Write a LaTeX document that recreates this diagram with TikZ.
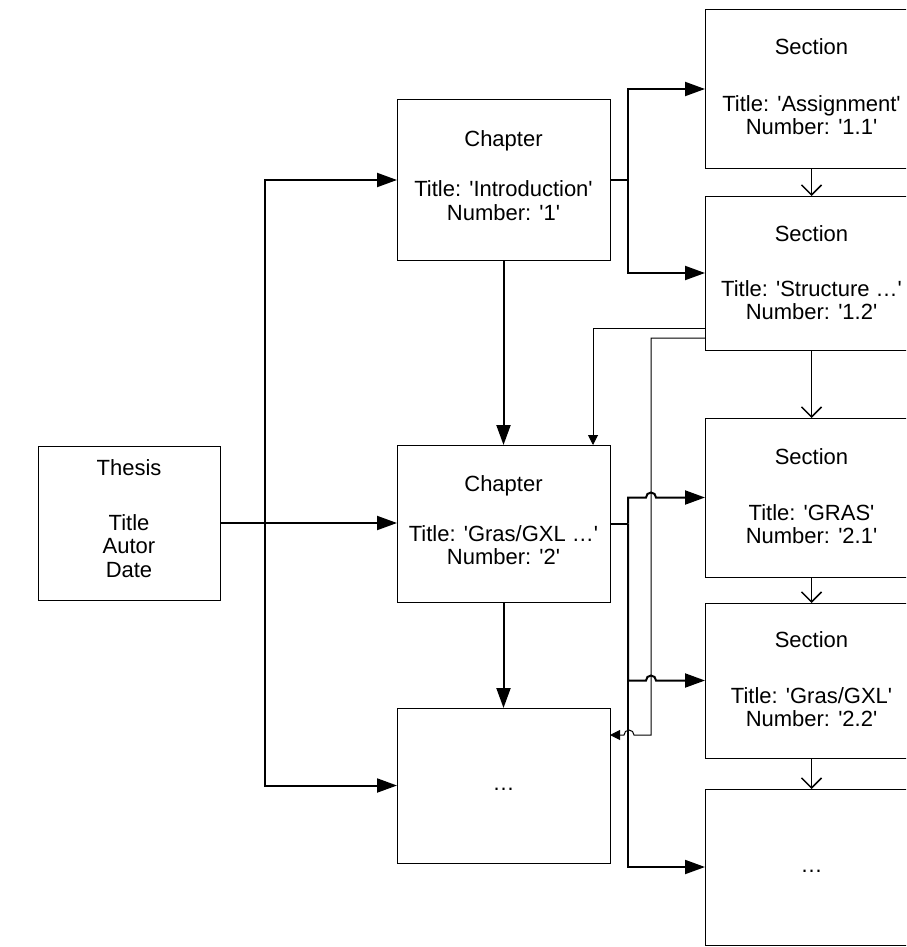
\documentclass[tikz,border=0pt]{standalone}
\usepackage{fontspec}
\setmainfont{Liberation Sans}
\usetikzlibrary{arrows.meta,calc}
% straight single quote
\newcommand\sq{\textquotesingle}
\begin{document}
\begin{tikzpicture}[x=1pt,y=-1pt,
  box/.style={draw=black, line width=1pt, anchor=north west, inner sep=0pt, outer sep=0pt},
  txt/.style={anchor=base, inner sep=0pt, font=\fontsize{22}{24}\selectfont},
  link/.style={line width=2pt, -{Triangle[length=20pt,width=14pt]}},
  bar/.style={line width=2pt},
  thinlink/.style={line width=1pt, -{Triangle[length=10pt,width=10pt]}},
  down/.style={line width=1.5pt, -{Straight Barb[length=10pt,width=20pt]}},
]
\useasboundingbox (0,0) rectangle (906,947);
\clip (0,0) rectangle (906,947);

% boxes
\node[box, minimum width=182pt, minimum height=154pt] (thesis) at (38,446) {};
\node[box, minimum width=213pt, minimum height=160pt] (ch1) at (397,100) {};
\node[box, minimum width=213pt, minimum height=157pt] (ch2) at (397,445) {};
\node[box, minimum width=213pt, minimum height=155pt] (ch3) at (397,708) {};
\node[box, minimum width=213pt, minimum height=158pt] (s1) at (705,10) {};
\node[box, minimum width=213pt, minimum height=154pt] (s2) at (705,196) {};
\node[box, minimum width=213pt, minimum height=159pt] (s3) at (705,418) {};
\node[box, minimum width=213pt, minimum height=155pt] (s4) at (705,603) {};
\node[box, minimum width=213pt, minimum height=156pt] (s5) at (705,789) {};

% labels
\node[txt] (thesis-a) at ($(thesis.north)+(0,29)$) {Thesis};
\node[txt] (thesis-b) at ($(thesis.north)+(0,84)$) {Title};
\node[txt] (thesis-c) at ($(thesis.north)+(0,107.5)$) {Autor};
\node[txt] (thesis-d) at ($(thesis.north)+(0,131)$) {Date};

\node[txt] (ch1-a) at ($(ch1.north)+(0,46.5)$) {Chapter};
\node[txt] (ch1-b) at ($(ch1.north)+(0,96.5)$) {Title: \sq Introduction\sq};
\node[txt] (ch1-c) at ($(ch1.north)+(0,120)$) {Number: \sq 1\sq};

\node[txt] (ch2-a) at ($(ch2.north)+(0,46)$) {Chapter};
\node[txt] (ch2-b) at ($(ch2.north)+(0,96)$) {Title: \sq Gras/GXL …\sq};
\node[txt] (ch2-c) at ($(ch2.north)+(0,119.5)$) {Number: \sq 2\sq};

\node[txt] (ch3-a) at ($(ch3.north)+(0,82)$) {…};

\node[txt] (s1-a) at ($(s1.north)+(0,45)$) {Section};
\node[txt] (s1-b) at ($(s1.north)+(0,101.5)$) {Title: \sq Assignment\sq};
\node[txt] (s1-c) at ($(s1.north)+(0,124.5)$) {Number: \sq 1.1\sq};

\node[txt] (s2-a) at ($(s2.north)+(0,45.5)$) {Section};
\node[txt] (s2-b) at ($(s2.north)+(0,100)$) {Title: \sq Structure …\sq};
\node[txt] (s2-c) at ($(s2.north)+(0,123.5)$) {Number: \sq 1.2\sq};

\node[txt] (s3-a) at ($(s3.north)+(0,46)$) {Section};
\node[txt] (s3-b) at ($(s3.north)+(0,102.5)$) {Title: \sq GRAS\sq};
\node[txt] (s3-c) at ($(s3.north)+(0,125.5)$) {Number: \sq 2.1\sq};

\node[txt] (s4-a) at ($(s4.north)+(0,44)$) {Section};
\node[txt] (s4-b) at ($(s4.north)+(0,100.5)$) {Title: \sq Gras/GXL\sq};
\node[txt] (s4-c) at ($(s4.north)+(0,123.5)$) {Number: \sq 2.2\sq};

\node[txt] (s5-a) at ($(s5.north)+(0,83)$) {…};

% thesis to chapters
\coordinate (b1) at ($(thesis.east)+(45,0)$);
\draw[link] (thesis.east) -- (thesis.east -| ch2.west);
\draw[link] (b1) |- (ch1.west);
\draw[link] (b1) |- (ch3.west);

% chapter sequence
\draw[link] (ch1.south) -- (ch2.north);
\draw[link] (ch2.south) -- (ch3.north);

% chapter 1 to its sections
\coordinate (b2) at ($(ch1.east)+(18,0)$);
\draw[bar] (ch1.east) -- (b2);
\draw[link] (b2) |- (s1.west);
\draw[link] (b2) |- (s2.west);

% chapter 2 to its sections (hopping over the thin link)
\coordinate (b3) at ($(ch2.east)+(18,0)$);
\draw[bar] (ch2.east) -- (b3);
\draw[link] (b3) |- ($(s3.west)+(-59,0)$) arc[start angle=180,end angle=360,radius=5] -- (s3.west);
\draw[link] (b3) |- ($(s4.west)+(-59,0)$) arc[start angle=180,end angle=360,radius=5] -- (s4.west);
\draw[link] (b3) |- (s5.west);

% thin references from section 1.2
\coordinate (pA) at ($(s2.west)+(0,55)$);
\coordinate (pB) at ($(s2.west)+(0,65)$);
\coordinate (pBturn) at ($(pB)+(-54,0)$);
\coordinate (pBend) at ($(ch3.east)+(0,-50.5)$);
\draw[thinlink] (pA) -| ($(ch2.north)+(89.5,0)$);
\draw[thinlink] (pB) -- (pBturn) -- (pBturn |- pBend) -- ($(pBend)+(24,0)$)
  arc[start angle=0,end angle=-180,radius=5] -- (pBend);

% section sequence
\draw[down] (s1.south) -- (s2.north);
\draw[down] (s2.south) -- (s3.north);
\draw[down] (s3.south) -- (s4.north);
\draw[down] (s4.south) -- (s5.north);
\end{tikzpicture}
\end{document}
